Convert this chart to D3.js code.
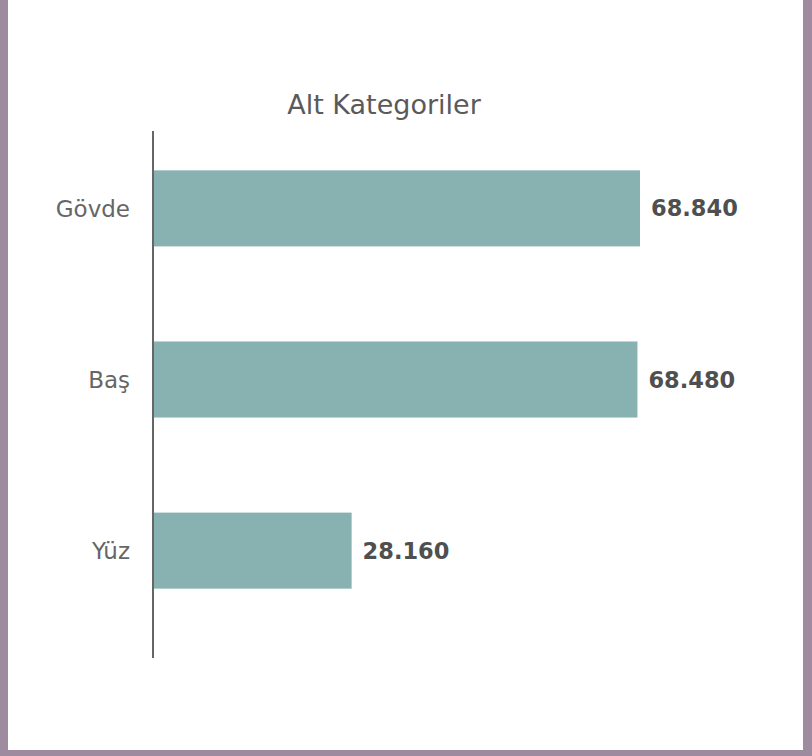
<!DOCTYPE html>
<html>
<head>
<meta charset="utf-8">
<script src="https://cdn.jsdelivr.net/npm/d3@7"></script>
<style>
  html, body { margin: 0; padding: 0; background: #9e8ba0; }
  #chart { position: absolute; left: 8px; top: 0; width: 795px; height: 750px; background: #fff; }
</style>
</head>
<body>
<div id="chart"></div>
<script>
var categories = ["Gövde", "Baş", "Yüz"];
var values = [68840, 68480, 28160];
var title = "Alt Kategoriler";

var width = 795, height = 750;
var axisX = 144;

var tr = d3.formatLocale({decimal: ",", thousands: ".", grouping: [3], currency: ["₺", ""]});
var fmt = tr.format(",.0f");

var svg = d3.select("#chart").append("svg")
  .attr("width", width).attr("height", height);

var x = d3.scaleLinear().domain([0, d3.max(values)]).range([axisX, 632]);
var y = d3.scaleBand().domain(categories)
  .range([119, 640]).paddingInner(95 / 171).paddingOuter(0.3);

svg.append("text")
  .attr("x", 376).attr("y", 114)
  .attr("text-anchor", "middle")
  .style("font", "27px 'DejaVu Sans'")
  .style("fill", "#5a5a5a")
  .text(title);

svg.selectAll("rect.bar")
  .data(values)
  .enter().append("rect")
  .attr("class", "bar")
  .attr("x", x(0))
  .attr("y", function(d, i){ return y(categories[i]); })
  .attr("width", function(d){ return x(d) - x(0); })
  .attr("height", y.bandwidth())
  .style("fill", "#88b2b1");

svg.append("line")
  .attr("x1", axisX + 1).attr("x2", axisX + 1)
  .attr("y1", 131).attr("y2", 658)
  .style("stroke", "#666").style("stroke-width", 2);

svg.selectAll("text.cat")
  .data(categories)
  .enter().append("text")
  .attr("class", "cat")
  .attr("x", axisX - 22)
  .attr("y", function(d){ return y(d) + y.bandwidth() / 2; })
  .attr("dy", "0.36em")
  .attr("text-anchor", "end")
  .style("font", "23px 'DejaVu Sans'")
  .style("fill", "#666")
  .text(function(d){ return d; });

svg.selectAll("text.val")
  .data(values)
  .enter().append("text")
  .attr("class", "val")
  .attr("x", function(d){ return x(d) + 11; })
  .attr("y", function(d, i){ return y(categories[i]) + y.bandwidth() / 2; })
  .attr("dy", "0.36em")
  .style("font", "bold 22.5px 'DejaVu Sans'")
  .style("fill", "#4f4f4f")
  .text(function(d){ return fmt(d); });
</script>
</body>
</html>
